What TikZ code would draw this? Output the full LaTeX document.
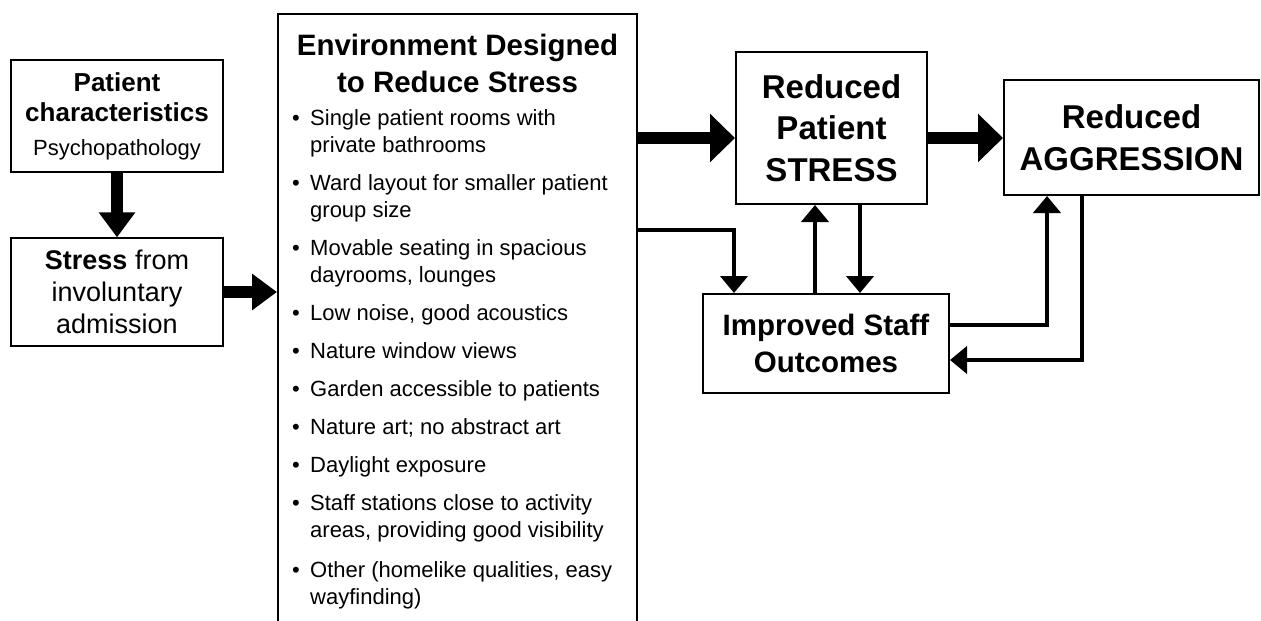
\documentclass[tikz,border=0pt]{standalone}
\usepackage{fontspec}
\setmainfont{Liberation Sans}
\usetikzlibrary{arrows.meta}

\begin{document}
\begin{tikzpicture}[x=1pt, y=-1pt,
    box/.style={draw, line width=2pt, inner sep=0pt, align=center},
    thinbox/.style={box, line width=1.3pt},
    bigarrow/.style={line width=12pt, -{Triangle[length=25pt, width=47pt]}},
    midarrow/.style={line width=12pt, -{Triangle[length=25pt, width=35pt]}},
    linkarrow/.style={line width=4.5pt, -{Triangle[length=17pt, width=27pt]}},
    itemtext/.style={anchor=base west, inner sep=0pt, font=\fontsize{22}{27}\selectfont},
    dot/.style={anchor=base, inner sep=0pt, font=\fontsize{22}{27}\selectfont}]
  \useasboundingbox (0,0) rectangle (1261,621);

  % Nodes
  \node[thinbox, minimum width=212pt, minimum height=112pt, font=\fontsize{26}{30}\selectfont\bfseries] (patient) at (117,116)
    {Patient\\characteristics\\[4pt]{\mdseries\fontsize{22}{30}\selectfont Psychopathology}};
  \node[thinbox, minimum width=212pt, minimum height=108pt, font=\fontsize{27}{32}\selectfont] (admit) at (117,292)
    {\textbf{Stress} from\\involuntary\\admission};
  \node[box, minimum width=359pt, minimum height=640pt] (env) at (457.5,334) {};
  \node[anchor=base, inner sep=0pt, font=\fontsize{29.5}{37}\selectfont\bfseries] (envtitle) at (457.5,55)
    {\parbox[t]{359pt}{\centering Environment Designed\\to Reduce Stress}};
  \foreach \y/\txt [count=\i] in {125/{Single patient rooms with\\private bathrooms},
      190/{Ward layout for smaller patient\\group size},
      255/{Movable seating in spacious\\dayrooms, lounges},
      320/{Low noise, good acoustics},
      358/{Nature window views},
      396/{Garden accessible to patients},
      434/{Nature art; no abstract art},
      472/{Daylight exposure},
      510/{Staff stations close to activity\\areas, providing good visibility},
      577/{Other (homelike qualities, easy\\wayfinding)}}
  {
    \node[dot] (bullet\i) at (296,\y) {\textbullet};
    \node[itemtext] (item\i) at (310,\y) {\parbox[t]{325pt}{\raggedright\txt}};
  }
  \node[box, minimum width=191pt, minimum height=152pt, font=\fontsize{33}{41.5}\selectfont\bfseries] (redstress) at (831.5,128)
    {Reduced\\Patient\\STRESS};
  \node[box, minimum width=255pt, minimum height=115pt, font=\fontsize{33}{42}\selectfont\bfseries] (aggr) at (1131.5,137.5)
    {Reduced\\AGGRESSION};
  \node[box, minimum width=246pt, minimum height=99pt, font=\fontsize{29.5}{37}\selectfont\bfseries] (staff) at (826,343.5)
    {Improved Staff\\Outcomes};

  % Arrow ends
  \coordinate (rsin) at ([yshift=-10pt]redstress.west);
  \coordinate (rsout) at ([yshift=-10pt]redstress.east);
  \coordinate (envout) at ([yshift=104pt]env.east);
  \coordinate (staffin) at ([xshift=32pt]staff.north west);
  \coordinate (staffup) at ([xshift=-11pt]staff.north);
  \coordinate (stressdown) at ([xshift=28.5pt]redstress.south);
  \coordinate (staffout) at ([yshift=18.5pt]staff.east);
  \coordinate (aggrin) at ([xshift=-84.5pt]aggr.south);
  \coordinate (aggrout) at ([xshift=-49.5pt]aggr.south);
  \coordinate (staffback) at ([yshift=-16.5pt]staff.east);

  % Arrows
  \draw[midarrow] (patient) -- (admit);
  \draw[midarrow] (admit.east) -- (admit.east -| env.west);
  \draw[bigarrow] (rsin -| env.east) -- (rsin);
  \draw[bigarrow] (rsout) -- (rsout -| aggr.west);
  \draw[linkarrow] (envout) -| (staffin);
  \draw[linkarrow] (staffup) -- (staffup |- redstress.south);
  \draw[linkarrow] (stressdown) -- (stressdown |- staff.north);
  \draw[linkarrow] (staffout) -| (aggrin);
  \draw[linkarrow] (aggrout) |- (staffback);
\end{tikzpicture}
\end{document}
